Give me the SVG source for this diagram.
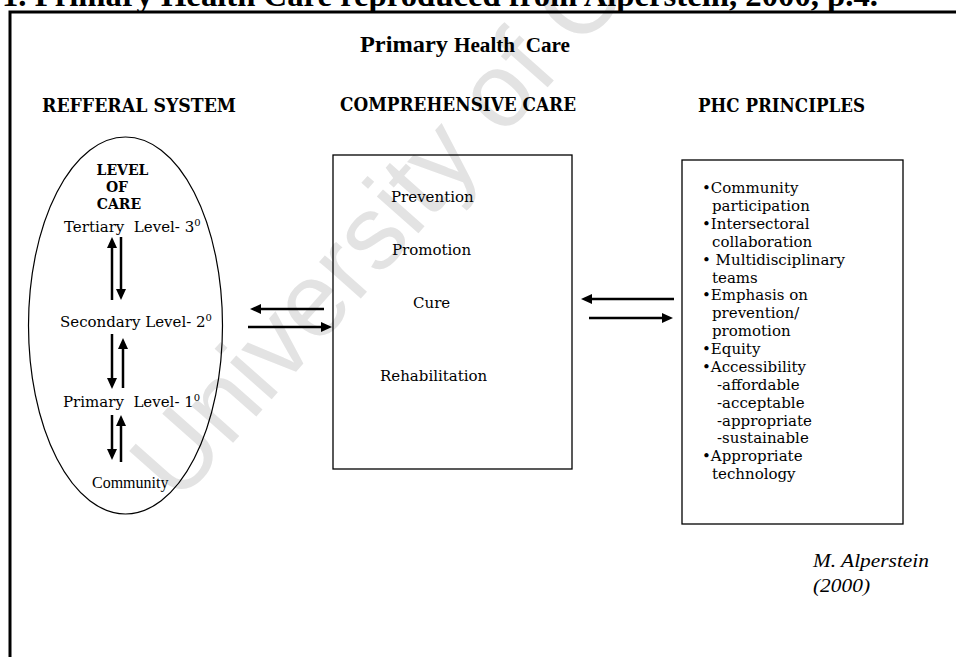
<svg xmlns="http://www.w3.org/2000/svg" width="956" height="657" viewBox="0 0 956 657">
<defs>
<marker id="ah" markerUnits="userSpaceOnUse" markerWidth="11" markerHeight="10" refX="4" refY="5" orient="auto"><path d="M0,0 L11,5 L0,10 z" fill="#000"/></marker>
</defs>
<style>
.bk{font-family:"DejaVu Serif",serif;font-size:15px;fill:#000;white-space:pre}
.hd{font-family:"DejaVu Serif",serif;font-weight:bold;font-size:18px;fill:#000}
.lv{font-family:"DejaVu Serif",serif;font-weight:bold;font-size:14px;fill:#000;text-anchor:middle}
.tm{font-family:"Liberation Serif",serif;fill:#000}
.ar{stroke:#000;stroke-width:2.5;fill:none;marker-end:url(#ah)}
.bx{stroke:#000;stroke-width:1.3;fill:none}
</style>
<rect width="956" height="657" fill="#fff"/>
<text transform="translate(178,505) rotate(-48.5)" font-family="Liberation Sans, Arial, sans-serif" font-size="105" fill="#e3e3e3">University of Cape Town</text>
<text class="tm" x="2" y="6" font-weight="bold" font-size="32" textLength="876" lengthAdjust="spacingAndGlyphs">1. Primary Health Care reproduced from Alperstein, 2000, p.4.</text>
<path d="M10,657 V12 H956" stroke="#000" stroke-width="3" fill="none"/>
<text class="tm" x="360" y="52" font-weight="bold" font-size="23" textLength="210" lengthAdjust="spacingAndGlyphs" style="white-space:pre">Primary <tspan font-size="20">Health  Care</tspan></text>
<text class="hd" x="42" y="112" textLength="194" lengthAdjust="spacingAndGlyphs">REFFERAL SYSTEM</text>
<text class="hd" x="340" y="111" textLength="236" lengthAdjust="spacingAndGlyphs">COMPREHENSIVE CARE</text>
<text class="hd" x="698" y="112" textLength="167" lengthAdjust="spacingAndGlyphs">PHC PRINCIPLES</text>
<g id="referral">
<ellipse cx="125.5" cy="325.5" rx="97" ry="188.5" fill="none" stroke="#000" stroke-width="1.2"/>
<text class="lv" x="122.5" y="175">LEVEL</text>
<text class="lv" x="117" y="192">OF</text>
<text class="lv" x="119" y="209">CARE</text>
<text class="bk" x="64" y="232">Tertiary  Level- 3<tspan font-size="10" dy="-6">0</tspan></text>
<text class="bk" x="60" y="327">Secondary Level- 2<tspan font-size="10" dy="-6">0</tspan></text>
<text class="bk" x="63" y="407">Primary  Level- 1<tspan font-size="10" dy="-6">0</tspan></text>
<text class="tm" x="92" y="488" font-size="16">Community</text>
</g>
<g id="comprehensive">
<rect class="bx" x="333" y="155" width="239" height="314"/>
<text class="bk" x="391" y="202">Prevention</text>
<text class="bk" x="392" y="255">Promotion</text>
<text class="bk" x="413" y="308">Cure</text>
<text class="bk" x="380" y="381">Rehabilitation</text>
</g>
<g id="principles">
<rect class="bx" x="682" y="160" width="221" height="364"/>
<text class="bk" x="702" y="193">•Community</text>
<text class="bk" x="712" y="211">participation</text>
<text class="bk" x="702" y="229">•Intersectoral</text>
<text class="bk" x="712" y="247">collaboration</text>
<text class="bk" x="702" y="265">• Multidisciplinary</text>
<text class="bk" x="712" y="283">teams</text>
<text class="bk" x="702" y="300">•Emphasis on</text>
<text class="bk" x="712" y="318">prevention/</text>
<text class="bk" x="712" y="336">promotion</text>
<text class="bk" x="702" y="354">•Equity</text>
<text class="bk" x="702" y="372">•Accessibility</text>
<text class="bk" x="717" y="390">-affordable</text>
<text class="bk" x="717" y="408">-acceptable</text>
<text class="bk" x="717" y="426">-appropriate</text>
<text class="bk" x="717" y="443">-sustainable</text>
<text class="bk" x="702" y="461">•Appropriate</text>
<text class="bk" x="712" y="479">technology</text>
</g>
<g id="credit">
<text class="tm" x="813" y="567" font-size="19" font-style="italic" textLength="116" lengthAdjust="spacingAndGlyphs">M. Alperstein</text>
<text class="tm" x="813" y="592" font-size="19" font-style="italic" textLength="57" lengthAdjust="spacingAndGlyphs">(2000)</text>
</g>
<g id="connectors">
<line class="ar" x1="112" y1="300" x2="112" y2="244"/>
<line class="ar" x1="121" y1="237" x2="121" y2="293"/>
<line class="ar" x1="112" y1="334" x2="112" y2="382"/>
<line class="ar" x1="123" y1="388" x2="123" y2="345"/>
<line class="ar" x1="112" y1="415" x2="112" y2="453"/>
<line class="ar" x1="121" y1="462" x2="121" y2="422"/>
<line class="ar" x1="324" y1="309" x2="257" y2="309"/>
<line class="ar" x1="248" y1="327" x2="325" y2="327"/>
<line class="ar" x1="674" y1="299" x2="588" y2="299"/>
<line class="ar" x1="589" y1="318" x2="666" y2="318"/>
</g>
</svg>
